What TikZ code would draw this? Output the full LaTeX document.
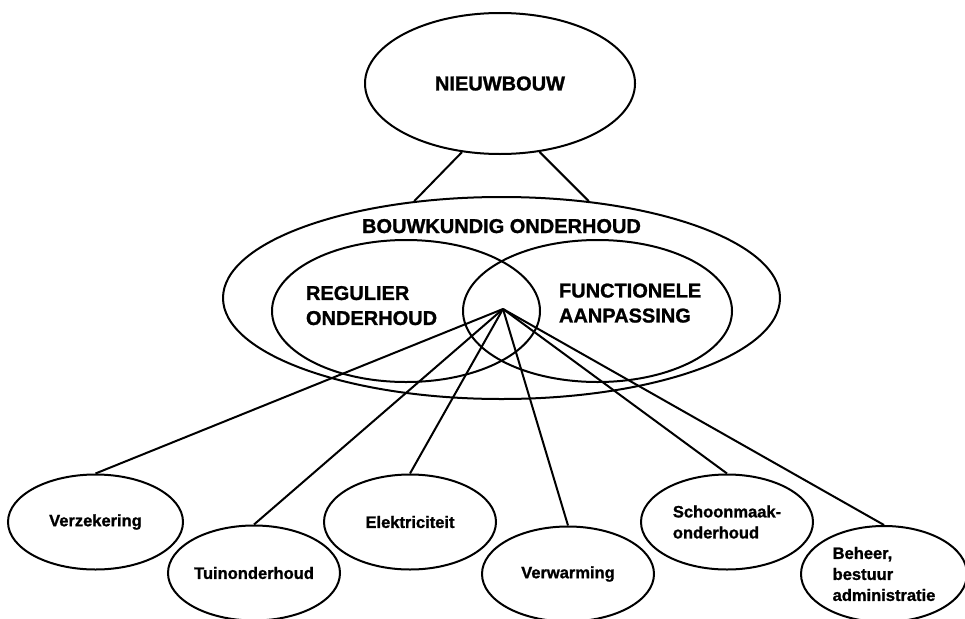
\documentclass[tikz,border=0pt]{standalone}
\usepackage{fontspec}
\setmainfont{Liberation Sans}[BoldFeatures={FakeBold=1.2}]
\usetikzlibrary{shapes.geometric}
\begin{document}
\begin{tikzpicture}[x=1pt,y=-1pt,
  line width=2pt,
  oval/.style={draw, ellipse, inner sep=0pt, align=center},
  bigtext/.style={font=\fontsize{20}{25}\selectfont\bfseries, inner sep=0pt},
  smalloval/.style={oval, minimum width=172pt, minimum height=95pt,
    font=\fontsize{16.5}{21}\selectfont\bfseries, align=left},
]
\useasboundingbox (0,0) rectangle (965,618);

% top level
\node[oval, bigtext, minimum width=270pt, minimum height=141pt] (nieuw) at (500,83.5) {NIEUWBOUW};

% maintenance ellipse with its two overlapping parts
\node[oval, minimum width=557pt, minimum height=202pt] (bouw) at (501.5,298) {};
\node[oval, minimum width=268pt, minimum height=142pt] (regulier) at (406,311) {};
\node[oval, minimum width=269pt, minimum height=142pt] (functie) at (597.5,311) {};

\node[bigtext, anchor=base] (tbouw) at (501.5,233) {BOUWKUNDIG ONDERHOUD};
\node[bigtext, align=left, anchor=north west] (treg) at (305,285) {REGULIER\\ONDERHOUD};
\node[bigtext, align=left, anchor=north west] (tfun) at (558,282.5) {FUNCTIONELE\\AANPASSING};

\draw (nieuw.241.3) -- (bouw.132.4);
\draw (nieuw.300) -- (bouw.48);

% services
\coordinate (hub) at (503,309);
\node[smalloval, minimum width=175pt] (verz) at (95.5,522) {Verzekering};
\node[smalloval] (tuin) at (254,573) {Tuinonderhoud};
\node[smalloval] (elek) at (410,522) {Elektriciteit};
\node[smalloval] (verw) at (568,574) {Verwarming};
\node[smalloval] (schoon) at (727,522) {Schoonmaak-\\onderhoud};
\node[smalloval, minimum width=166pt, minimum height=96pt] (beheer) at (884,574) {Beheer,\\bestuur\\administratie};

\foreach \n in {verz,tuin,elek,verw,schoon,beheer}
  \draw (hub) -- (\n.north);
\end{tikzpicture}
\end{document}
